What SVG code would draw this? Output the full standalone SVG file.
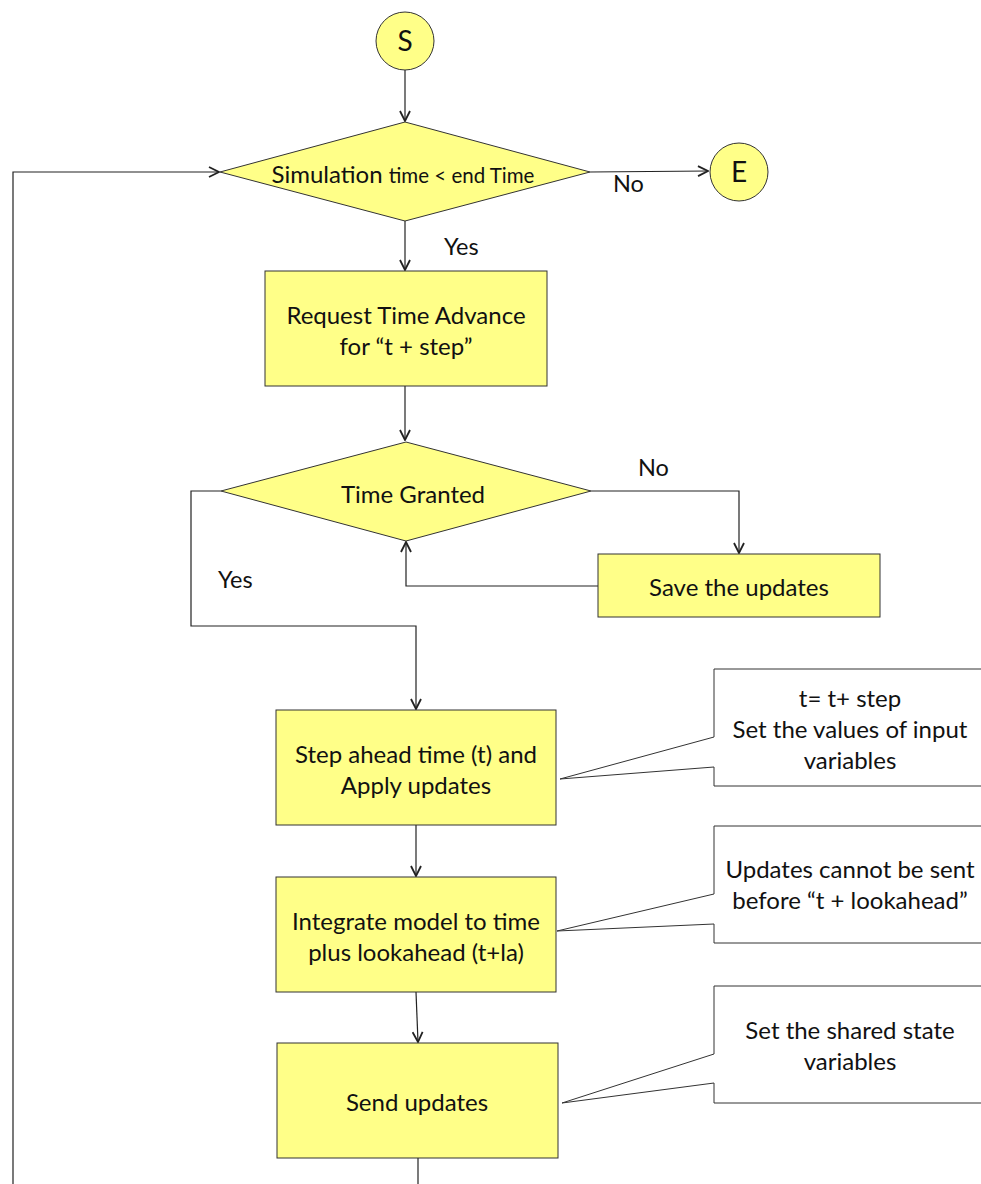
<svg xmlns="http://www.w3.org/2000/svg" width="981" height="1184" viewBox="0 0 981 1184">
  <style>
    .shape { fill: #ffff88; stroke: #333333; stroke-width: 1; }
    .note { fill: #ffffff; stroke: #333333; stroke-width: 1; }
    .txt { font-family: Lato, "Liberation Sans", sans-serif; font-size: 24px; fill: #111111; text-anchor: middle; }
    .lbl { font-family: Lato, "Liberation Sans", sans-serif; font-size: 23.5px; fill: #111111; }
    .big { font-size: 28px; }
    .conn { fill: none; stroke: #222222; stroke-width: 1.2; }
  </style>
  <defs>
    <marker id="arrow" viewBox="0 0 12 12" refX="11" refY="6" markerWidth="12" markerHeight="12" markerUnits="userSpaceOnUse" orient="auto">
      <polyline points="1,1 11,6 1,11" fill="none" stroke="#222222" stroke-width="1.8"/>
    </marker>
  </defs>

  <!-- connectors -->
  <g id="connectors">
    <line class="conn" x1="405" y1="70" x2="405" y2="121" marker-end="url(#arrow)"/>
    <line class="conn" x1="590" y1="172" x2="708" y2="171" marker-end="url(#arrow)"/>
    <polyline class="conn" points="13,1184 13,172 219,172" marker-end="url(#arrow)"/>
    <line class="conn" x1="405" y1="221" x2="405" y2="270" marker-end="url(#arrow)"/>
    <line class="conn" x1="405" y1="386" x2="405" y2="440" marker-end="url(#arrow)"/>
    <polyline class="conn" points="591,491 739,491 739,553" marker-end="url(#arrow)"/>
    <polyline class="conn" points="598,586 406,586 406,542" marker-end="url(#arrow)"/>
    <polyline class="conn" points="221,491 191,491 191,626 416,626 416,709" marker-end="url(#arrow)"/>
    <line class="conn" x1="416" y1="825" x2="416" y2="876" marker-end="url(#arrow)"/>
    <line class="conn" x1="416" y1="992" x2="418" y2="1042" marker-end="url(#arrow)"/>
    <line class="conn" x1="418" y1="1158" x2="418" y2="1184"/>
    <text class="lbl" x="613" y="192">No</text>
    <text class="lbl" x="444" y="255">Yes</text>
    <text class="lbl" x="638" y="476">No</text>
    <text class="lbl" x="218" y="588">Yes</text>
  </g>

  <!-- start -->
  <g id="start">
    <circle class="shape" cx="405" cy="41" r="29"/>
    <text class="txt big" x="405" y="51">S</text>
  </g>

  <!-- end -->
  <g id="end">
    <circle class="shape" cx="739" cy="172" r="29"/>
    <text class="txt big" x="739" y="182">E</text>
  </g>

  <!-- loop condition -->
  <g id="sim-check">
    <polygon class="shape" points="405,122 590,172 405,221 220,172"/>
    <text class="txt" x="403" y="183">Simulation <tspan font-size="20.5">time &lt; end Time</tspan></text>
  </g>

  <g id="request">
    <rect class="shape" x="265" y="271" width="282" height="115"/>
    <text class="txt" x="406" y="324">Request Time Advance</text>
    <text class="txt" x="406" y="355">for “t + step”</text>
  </g>

  <g id="granted">
    <polygon class="shape" points="406,442 591,491 406,541 221,491"/>
    <text class="txt" x="413" y="503">Time Granted</text>
  </g>

  <g id="save">
    <rect class="shape" x="598" y="554" width="282" height="63"/>
    <text class="txt" x="739" y="596">Save the updates</text>
  </g>

  <g id="step-ahead">
    <rect class="shape" x="276" y="710" width="280" height="115"/>
    <text class="txt" x="416" y="763">Step ahead time (t) and</text>
    <text class="txt" x="416" y="794">Apply updates</text>
  </g>

  <g id="integrate">
    <rect class="shape" x="276" y="877" width="280" height="115"/>
    <text class="txt" x="416" y="930">Integrate model to time</text>
    <text class="txt" x="416" y="961">plus lookahead (t+la)</text>
  </g>

  <g id="send">
    <rect class="shape" x="277" y="1043" width="281" height="115"/>
    <text class="txt" x="417" y="1111">Send updates</text>
  </g>

  <!-- callout notes -->
  <g id="note-step">
    <path class="note" d="M990,669 L714,669 L714,737 L560,779 L714,767 L714,786 L990,786"/>
    <text class="txt" x="850" y="707">t= t+ step</text>
    <text class="txt" x="850" y="738">Set the values of input</text>
    <text class="txt" x="850" y="769">variables</text>
  </g>

  <g id="note-integrate">
    <path class="note" d="M990,826 L714,826 L714,894 L557,931 L714,924 L714,943 L990,943"/>
    <text class="txt" x="850" y="878">Updates cannot be sent</text>
    <text class="txt" x="850" y="909">before “t + lookahead”</text>
  </g>

  <g id="note-send">
    <path class="note" d="M990,986 L714,986 L714,1054 L562,1103 L714,1083 L714,1103 L990,1103"/>
    <text class="txt" x="850" y="1039">Set the shared state</text>
    <text class="txt" x="850" y="1070">variables</text>
  </g>
</svg>
